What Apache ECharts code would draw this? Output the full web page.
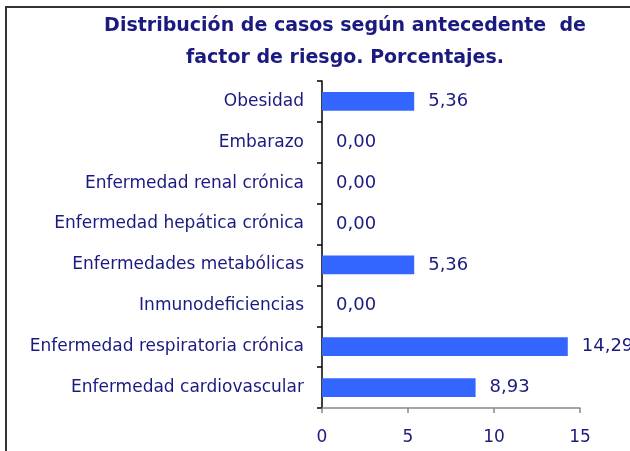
<!DOCTYPE html>
<html><head><meta charset="utf-8">
<script src="https://cdn.jsdelivr.net/npm/echarts@6/dist/echarts.min.js"></script>
<style>html,body{margin:0;padding:0;background:#fff}#c{width:630px;height:451px}</style>
</head><body><div id="c"></div>
<script>
const titleText = "Distribución de casos según antecedente  de\nfactor de riesgo. Porcentajes.";
const categories = ["Obesidad","Embarazo","Enfermedad renal crónica","Enfermedad hepática crónica","Enfermedades metabólicas","Inmunodeficiencias","Enfermedad respiratoria crónica","Enfermedad cardiovascular"];
const values = [5.36, 0.00, 0.00, 0.00, 5.36, 0.00, 14.29, 8.93];
const xTicks = [0, 5, 10, 15];

const navy = "#1a1a80";
const font = "DejaVu Sans";
const chart = echarts.init(document.getElementById('c'), null, {renderer:'canvas'});
chart.setOption({
  animation:false,
  backgroundColor:'#fff',
  title:{text:titleText, left:340, textAlign:'center', top:5,
    textStyle:{color:navy, fontFamily:font, fontWeight:'bold', fontSize:19, lineHeight:32}},
  graphic:[{type:'rect', shape:{x:6,y:7,width:700,height:500}, style:{fill:'none', stroke:'#333', lineWidth:2}, z:-1}],
  grid:{left:322, right:50, top:81, bottom:43, containLabel:false},
  xAxis:{type:'value', min:0, max:15, interval:5,
    axisLine:{show:true, lineStyle:{color:'#888', width:1.5}},
    axisTick:{show:true, length:5, lineStyle:{color:'#888', width:1.5}},
    splitLine:{show:false},
    axisLabel:{color:navy, fontFamily:font, fontSize:17, margin:21,
      formatter:v=> xTicks.includes(v)? String(v):''}},
  yAxis:{type:'category', data:categories, inverse:true,
    axisLine:{show:true, lineStyle:{color:'#000', width:1.5}},
    axisTick:{show:true, length:5, lineStyle:{color:'#000', width:1.5}},
    axisLabel:{color:navy, fontFamily:font, fontSize:17, margin:18}},
  series:[{type:'bar', data:values, barWidth:'46%',
    itemStyle:{color:'#3366ff'},
    label:{show:true, position:'right', distance:14, color:navy, fontFamily:font, fontSize:18,
      formatter:p=>p.value.toFixed(2).replace('.',',')}}]
});
</script></body></html>
